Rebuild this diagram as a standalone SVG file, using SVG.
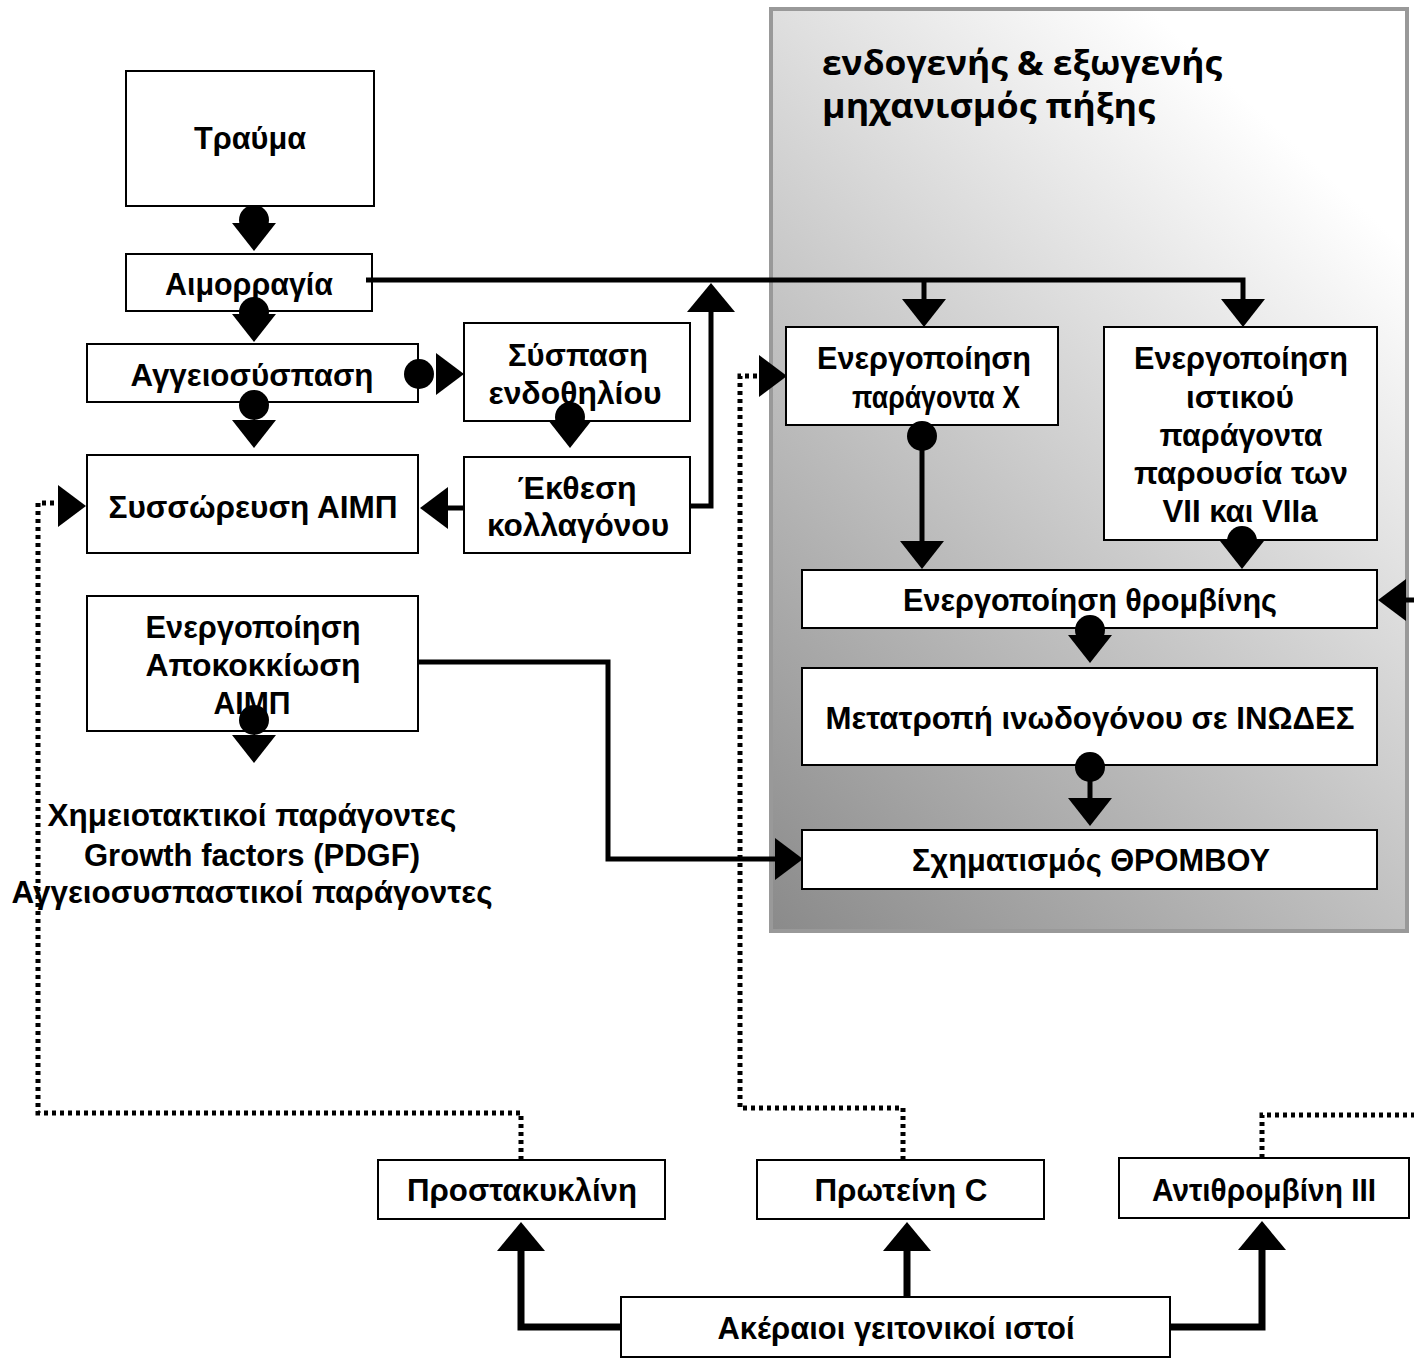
<svg xmlns="http://www.w3.org/2000/svg" xmlns:xlink="http://www.w3.org/1999/xlink" width="1414" height="1358" viewBox="0 0 1414 1358">
<style>
.box{fill:#fff;stroke:#000;stroke-width:2}
.t{font-family:"Liberation Sans",Arial,sans-serif;font-weight:bold;font-size:31px;fill:#000;text-anchor:middle}
.title{font-family:"Open Sans","DejaVu Sans",sans-serif;font-weight:bold;font-size:34px;fill:#000}
.ln{fill:none;stroke:#000;stroke-width:5}
.thick{fill:none;stroke:#000;stroke-width:7}
.dot{fill:none;stroke:#000;stroke-width:5;stroke-dasharray:4 4}
</style>
<defs>
<linearGradient id="pg" gradientUnits="userSpaceOnUse" x1="770" y1="932" x2="1408" y2="250">
<stop offset="0" stop-color="#8a8a8a"/>
<stop offset="1" stop-color="#ffffff"/>
</linearGradient>
<polygon id="tD" points="-22,0 22,0 0,28"/>
<polygon id="tU" points="-24,0 24,0 0,-29"/>
<polygon id="tR" points="0,-21 0,21 28,0"/>
<polygon id="tL" points="0,-21 0,21 -28,0"/>
<circle id="bl" r="15"/>
</defs>
<rect width="1414" height="1358" fill="#fff"/>
<g id="panel">
<rect x="771" y="9" width="636" height="922" fill="url(#pg)" stroke="#999" stroke-width="4"/>
<text class="title" x="822" y="75" textLength="400" lengthAdjust="spacingAndGlyphs">ενδογενής &amp; εξωγενής</text>
<text class="title" x="822" y="118" textLength="333" lengthAdjust="spacingAndGlyphs">μηχανισμός πήξης</text>
</g>
<g id="nodes">
<g id="n-trauma"><rect class="box" x="126" y="71" width="248" height="135"/><text class="t" x="250" y="149" textLength="112" lengthAdjust="spacingAndGlyphs">Τραύμα</text></g>
<g id="n-haim"><rect class="box" x="126" y="254" width="246" height="57"/><text class="t" x="249" y="295" textLength="168" lengthAdjust="spacingAndGlyphs">Αιμορραγία</text></g>
<g id="n-angeio"><rect class="box" x="87" y="344" width="331" height="58"/><text class="t" x="252" y="386" textLength="243" lengthAdjust="spacingAndGlyphs">Αγγειοσύσπαση</text></g>
<g id="n-endo"><rect class="box" x="464" y="323" width="226" height="98"/><text class="t" x="578" y="366" textLength="140" lengthAdjust="spacingAndGlyphs">Σύσπαση</text><text class="t" x="575" y="404" textLength="173" lengthAdjust="spacingAndGlyphs">ενδοθηλίου</text></g>
<g id="n-coll"><rect class="box" x="464" y="457" width="226" height="96"/><text class="t" x="577" y="499" textLength="119" lengthAdjust="spacingAndGlyphs">Έκθεση</text><text class="t" x="578" y="536" textLength="182" lengthAdjust="spacingAndGlyphs">κολλαγόνου</text></g>
<g id="n-aggr"><rect class="box" x="87" y="455" width="331" height="98"/><text class="t" x="253" y="518" textLength="289" lengthAdjust="spacingAndGlyphs">Συσσώρευση ΑΙΜΠ</text></g>
<g id="n-act"><rect class="box" x="87" y="596" width="331" height="135"/><text class="t" x="253" y="638" textLength="215" lengthAdjust="spacingAndGlyphs">Ενεργοποίηση</text><text class="t" x="253" y="676" textLength="215" lengthAdjust="spacingAndGlyphs">Αποκοκκίωση</text><text class="t" x="252" y="714" textLength="77" lengthAdjust="spacingAndGlyphs">ΑΙΜΠ</text></g>
<g id="n-factors"><text class="t" x="252" y="826" textLength="409" lengthAdjust="spacingAndGlyphs">Χημειοτακτικοί παράγοντες</text><text class="t" x="252" y="866" textLength="336" lengthAdjust="spacingAndGlyphs">Growth factors (PDGF)</text><text class="t" x="252" y="903" textLength="481" lengthAdjust="spacingAndGlyphs">Αγγειοσυσπαστικοί παράγοντες</text></g>
<g id="n-fx"><rect class="box" x="786" y="327" width="272" height="98"/><text class="t" x="924" y="369" textLength="214" lengthAdjust="spacingAndGlyphs">Ενεργοποίηση</text><text class="t" x="936" y="408" textLength="168" lengthAdjust="spacingAndGlyphs">παράγοντα Χ</text></g>
<g id="n-tf"><rect class="box" x="1104" y="327" width="273" height="213"/><text class="t" x="1241" y="369" textLength="214" lengthAdjust="spacingAndGlyphs">Ενεργοποίηση</text><text class="t" x="1240" y="408" textLength="108" lengthAdjust="spacingAndGlyphs">ιστικού</text><text class="t" x="1241" y="446" textLength="163" lengthAdjust="spacingAndGlyphs">παράγοντα</text><text class="t" x="1241" y="484" textLength="214" lengthAdjust="spacingAndGlyphs">παρουσία των</text><text class="t" x="1240" y="522" textLength="155" lengthAdjust="spacingAndGlyphs">VII και VIIa</text></g>
<g id="n-thromb"><rect class="box" x="802" y="570" width="575" height="58"/><text class="t" x="1090" y="611" textLength="374" lengthAdjust="spacingAndGlyphs">Ενεργοποίηση θρομβίνης</text></g>
<g id="n-fib"><rect class="box" x="802" y="668" width="575" height="97"/><text class="t" x="1090" y="729" textLength="529" lengthAdjust="spacingAndGlyphs">Μετατροπή ινωδογόνου σε ΙΝΩΔΕΣ</text></g>
<g id="n-thrombus"><rect class="box" x="802" y="830" width="575" height="59"/><text class="t" x="1091" y="871" textLength="358" lengthAdjust="spacingAndGlyphs">Σχηματισμός ΘΡΟΜΒΟΥ</text></g>
<g id="n-prost"><rect class="box" x="378" y="1160" width="287" height="59"/><text class="t" x="522" y="1201" textLength="230" lengthAdjust="spacingAndGlyphs">Προστακυκλίνη</text></g>
<g id="n-protc"><rect class="box" x="757" y="1160" width="287" height="59"/><text class="t" x="901" y="1201" textLength="173" lengthAdjust="spacingAndGlyphs">Πρωτείνη C</text></g>
<g id="n-at3"><rect class="box" x="1119" y="1158" width="290" height="60"/><text class="t" x="1264" y="1201" textLength="224" lengthAdjust="spacingAndGlyphs">Αντιθρομβίνη ΙΙΙ</text></g>
<g id="n-tissue"><rect class="box" x="621" y="1297" width="549" height="60"/><text class="t" x="896" y="1339" textLength="357" lengthAdjust="spacingAndGlyphs">Ακέραιοι γειτονικοί ιστοί</text></g>
</g>
<g id="connectors">
<use href="#bl" x="254" y="220"/><use href="#tD" x="254" y="223"/>
<use href="#bl" x="254" y="312"/><use href="#tD" x="254" y="314"/>
<use href="#bl" x="254" y="405"/><use href="#tD" x="254" y="420"/>
<use href="#bl" x="419" y="374"/><use href="#tR" x="436" y="374"/>
<use href="#bl" x="570" y="417"/><use href="#tD" x="570" y="420"/>
<line class="ln" x1="464" y1="508" x2="444" y2="508"/><use href="#tL" x="448" y="508"/>
<polyline class="ln" points="690,506 711,506 711,308"/><use href="#tU" x="711" y="312"/>
<polyline class="ln" points="366,280 1243,280 1243,300"/><line class="ln" x1="924" y1="280" x2="924" y2="300"/>
<use href="#tD" x="924" y="299"/><use href="#tD" x="1243" y="299"/>
<use href="#bl" x="922" y="436"/><line class="ln" x1="922" y1="436" x2="922" y2="542"/><use href="#tD" x="922" y="541"/>
<use href="#bl" x="1242" y="541"/><use href="#tD" x="1242" y="541"/>
<use href="#bl" x="1090" y="630"/><use href="#tD" x="1090" y="635"/>
<use href="#bl" x="1090" y="767"/><line class="ln" x1="1090" y1="767" x2="1090" y2="800"/><use href="#tD" x="1090" y="798"/>
<polyline class="ln" points="418,662 608,662 608,859 780,859"/><use href="#tR" x="775" y="859"/>
<use href="#bl" x="254" y="720"/><use href="#tD" x="254" y="735"/>
<line class="ln" x1="1414" y1="600" x2="1404" y2="600"/><use href="#tL" x="1406" y="600"/>
<polyline class="dot" points="521,1160 521,1113 38,1113 38,503 60,503"/><use href="#tR" x="58" y="506"/>
<polyline class="dot" points="903,1160 903,1108 740,1108 740,376 762,376"/><use href="#tR" x="759" y="376"/>
<polyline class="dot" points="1262,1158 1262,1115 1414,1115"/>
<polyline class="thick" points="621,1327 521,1327 521,1248"/><use href="#tU" x="521" y="1251"/>
<line class="thick" x1="907" y1="1297" x2="907" y2="1248"/><use href="#tU" x="907" y="1251"/>
<polyline class="thick" points="1170,1327 1262,1327 1262,1248"/><use href="#tU" x="1262" y="1250"/>
</g>
</svg>
